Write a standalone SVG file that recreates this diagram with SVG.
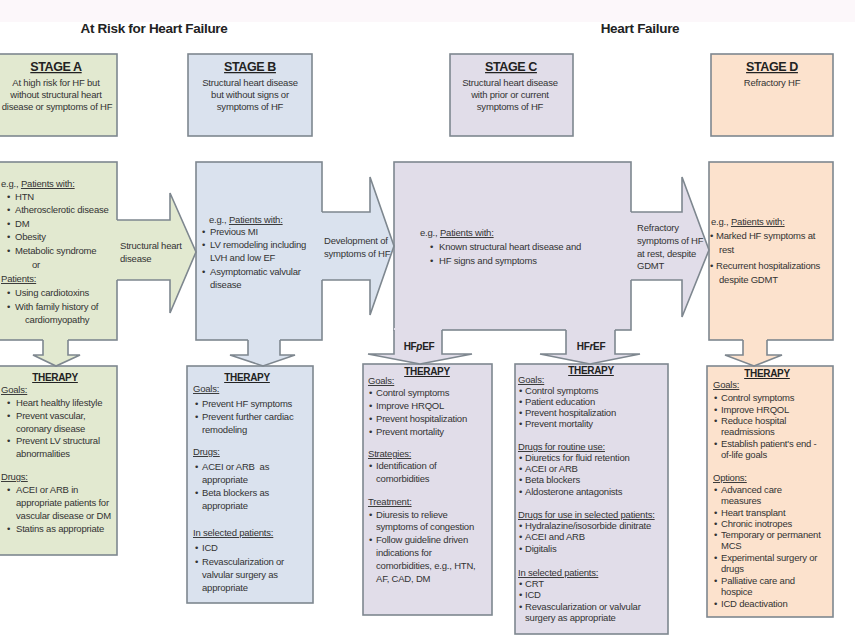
<svg xmlns="http://www.w3.org/2000/svg" width="855" height="637" viewBox="0 0 855 637">
<style>
text{font-family:"Liberation Sans",Arial,sans-serif;fill:#333;font-size:9.5px;letter-spacing:-0.2px}
.title{font-size:13.5px;font-weight:bold;fill:#222;letter-spacing:-0.3px;text-anchor:middle}
.stage{font-size:12.5px;font-weight:bold;fill:#222;letter-spacing:-0.4px;text-decoration:underline;text-anchor:middle}
.th{font-size:10px;font-weight:bold;fill:#222;letter-spacing:-0.3px;text-decoration:underline;text-anchor:middle}
.mid{text-anchor:middle}
.u{text-decoration:underline}
.lbl{font-size:10px;font-weight:bold;fill:#222;text-anchor:middle;letter-spacing:-0.3px}
.box{stroke:#7e878f;stroke-width:1.6}
.ga{fill:#e2e9d0}.gb{fill:#dae2ee}.gc{fill:#e1dde9}.gd{fill:#fce2cd}
.edge{stroke:#7e878f;stroke-width:1.6;fill:none}
</style>
<rect width="855" height="637" fill="#ffffff"/>
<rect width="855" height="22" fill="#fcf7fa"/>

<!-- column headings -->
<text class="title" x="154" y="33">At Risk for Heart Failure</text>
<text class="title" x="640" y="33">Heart Failure</text>

<!-- stage header boxes -->
<g id="stageA-header">
<rect class="box ga" x="-2" y="54" width="119" height="82"/>
<text class="stage" x="56" y="71">STAGE A</text>
<text class="mid" x="56" y="86">At high risk for HF but</text>
<text class="mid" x="56" y="98">without structural heart</text>
<text class="mid" x="57" y="110">disease or symptoms of HF</text>
</g>
<g id="stageB-header">
<rect class="box gb" x="188" y="54" width="124" height="82"/>
<text class="stage" x="250" y="71">STAGE B</text>
<text class="mid" x="250" y="86">Structural heart disease</text>
<text class="mid" x="250" y="98">but without signs or</text>
<text class="mid" x="250" y="110">symptoms of HF</text>
</g>
<g id="stageC-header">
<rect class="box gc" x="450" y="54" width="123" height="82"/>
<text class="stage" x="511" y="71">STAGE C</text>
<text class="mid" x="510" y="86">Structural heart disease</text>
<text class="mid" x="510" y="98">with prior or current</text>
<text class="mid" x="510" y="110">symptoms of HF</text>
</g>
<g id="stageD-header">
<rect class="box gd" x="711" y="54" width="122" height="82"/>
<text class="stage" x="772" y="71">STAGE D</text>
<text class="mid" x="772" y="86">Refractory HF</text>
</g>

<!-- patient example boxes -->
<g id="stageA-patients">
<rect class="box ga" x="-2" y="162" width="119" height="178"/>
<text x="1" y="187">e.g., <tspan class="u">Patients with:</tspan></text>
<text y="200"><tspan x="7">•</tspan><tspan x="15">HTN</tspan></text>
<text y="213"><tspan x="7">•</tspan><tspan x="15">Atherosclerotic disease</tspan></text>
<text y="227"><tspan x="7">•</tspan><tspan x="15">DM</tspan></text>
<text y="240"><tspan x="7">•</tspan><tspan x="15">Obesity</tspan></text>
<text y="254"><tspan x="7">•</tspan><tspan x="15">Metabolic syndrome</tspan></text>
<text class="mid" x="36" y="268">or</text>
<text x="1" y="282" class="u">Patients:</text>
<text y="296"><tspan x="7">•</tspan><tspan x="15">Using cardiotoxins</tspan></text>
<text y="310"><tspan x="7">•</tspan><tspan x="15">With family history of</tspan></text>
<text x="25" y="323">cardiomyopathy</text>
</g>
<g id="stageB-patients">
<rect class="box gb" x="196" y="162" width="126" height="178"/>
<text x="209" y="223">e.g., <tspan class="u">Patients with:</tspan></text>
<text y="235"><tspan x="202">•</tspan><tspan x="210">Previous MI</tspan></text>
<text y="248"><tspan x="202">•</tspan><tspan x="210">LV remodeling including</tspan></text>
<text x="210" y="261">LVH and low EF</text>
<text y="275"><tspan x="202">•</tspan><tspan x="210">Asymptomatic valvular</tspan></text>
<text x="210" y="288">disease</text>
</g>
<g id="stageC-patients">
<rect class="box gc" x="394" y="162" width="237" height="168"/>
<text x="420" y="236">e.g., <tspan class="u">Patients with:</tspan></text>
<text y="250"><tspan x="430">•</tspan><tspan x="439">Known structural heart disease and</tspan></text>
<text y="264"><tspan x="430">•</tspan><tspan x="439">HF signs and symptoms</tspan></text>
</g>
<g id="stageD-patients">
<rect class="box gd" x="709" y="162" width="124" height="178"/>
<text x="711" y="225">e.g., <tspan class="u">Patients with:</tspan></text>
<text y="239"><tspan x="710">•</tspan><tspan x="716">Marked HF symptoms at</tspan></text>
<text x="719" y="253">rest</text>
<text y="269"><tspan x="710">•</tspan><tspan x="716">Recurrent hospitalizations</tspan></text>
<text x="719" y="283">despite GDMT</text>
</g>

<!-- therapy boxes -->
<g id="stageA-therapy">
<rect class="box ga" x="-2" y="366" width="119" height="189"/>
<text class="th" x="55" y="381">THERAPY</text>
<text class="u" x="1" y="393">Goals:</text>
<text y="406"><tspan x="7">•</tspan><tspan x="16">Heart healthy lifestyle</tspan></text>
<text y="419"><tspan x="7">•</tspan><tspan x="16">Prevent vascular,</tspan></text>
<text x="16" y="432">coronary disease</text>
<text y="444"><tspan x="7">•</tspan><tspan x="16">Prevent LV structural</tspan></text>
<text x="16" y="457">abnormalities</text>
<text class="u" x="1" y="480">Drugs:</text>
<text y="493"><tspan x="7">•</tspan><tspan x="16">ACEI or ARB in</tspan></text>
<text x="16" y="506">appropriate patients for</text>
<text x="16" y="519">vascular disease or DM</text>
<text y="532"><tspan x="7">•</tspan><tspan x="16">Statins as appropriate</tspan></text>
</g>
<g id="stageB-therapy">
<rect class="box gb" x="187" y="366" width="126" height="237"/>
<text class="th" x="247" y="381">THERAPY</text>
<text class="u" x="193" y="392">Goals:</text>
<text y="407"><tspan x="195">•</tspan><tspan x="202">Prevent HF symptoms</tspan></text>
<text y="420"><tspan x="195">•</tspan><tspan x="202">Prevent further cardiac</tspan></text>
<text x="202" y="433">remodeling</text>
<text class="u" x="193" y="455">Drugs:</text>
<text y="470"><tspan x="195">•</tspan><tspan x="202" xml:space="preserve">ACEI or ARB  as</tspan></text>
<text x="202" y="483">appropriate</text>
<text y="496"><tspan x="195">•</tspan><tspan x="202">Beta blockers as</tspan></text>
<text x="202" y="509">appropriate</text>
<text class="u" x="193" y="536">In selected patients:</text>
<text y="551"><tspan x="195">•</tspan><tspan x="202">ICD</tspan></text>
<text y="565"><tspan x="195">•</tspan><tspan x="202">Revascularization or</tspan></text>
<text x="202" y="578">valvular surgery as</text>
<text x="202" y="591">appropriate</text>
</g>
<g id="stageC-therapy-hfpef">
<rect class="box gc" x="363" y="364" width="129" height="251"/>
<text class="th" x="427" y="375">THERAPY</text>
<text class="u" x="368" y="384">Goals:</text>
<text y="396"><tspan x="369">•</tspan><tspan x="376">Control symptoms</tspan></text>
<text y="409"><tspan x="369">•</tspan><tspan x="376">Improve HRQOL</tspan></text>
<text y="422"><tspan x="369">•</tspan><tspan x="376">Prevent hospitalization</tspan></text>
<text y="435"><tspan x="369">•</tspan><tspan x="376">Prevent mortality</tspan></text>
<text class="u" x="368" y="457">Strategies:</text>
<text y="469"><tspan x="369">•</tspan><tspan x="376">Identification of</tspan></text>
<text x="376" y="482">comorbidities</text>
<text class="u" x="368" y="505">Treatment:</text>
<text y="518"><tspan x="369">•</tspan><tspan x="376">Diuresis to relieve</tspan></text>
<text x="376" y="530">symptoms of congestion</text>
<text y="543"><tspan x="369">•</tspan><tspan x="376">Follow guideline driven</tspan></text>
<text x="376" y="556">indications for</text>
<text x="376" y="569">comorbidities, e.g., HTN,</text>
<text x="376" y="582">AF, CAD, DM</text>
</g>
<g id="stageC-therapy-hfref">
<rect class="box gc" x="515" y="364" width="153" height="270"/>
<text class="th" x="591" y="374">THERAPY</text>
<text class="u" x="518" y="383">Goals:</text>
<text y="394"><tspan x="519">•</tspan><tspan x="525">Control symptoms</tspan></text>
<text y="405"><tspan x="519">•</tspan><tspan x="525">Patient education</tspan></text>
<text y="416"><tspan x="519">•</tspan><tspan x="525">Prevent hospitalization</tspan></text>
<text y="427"><tspan x="519">•</tspan><tspan x="525">Prevent mortality</tspan></text>
<text class="u" x="518" y="450">Drugs for routine use:</text>
<text y="461"><tspan x="519">•</tspan><tspan x="525">Diuretics for fluid retention</tspan></text>
<text y="472"><tspan x="519">•</tspan><tspan x="525">ACEI or ARB</tspan></text>
<text y="483"><tspan x="519">•</tspan><tspan x="525">Beta blockers</tspan></text>
<text y="495"><tspan x="519">•</tspan><tspan x="525">Aldosterone antagonists</tspan></text>
<text class="u" x="518" y="518">Drugs for use in selected patients:</text>
<text y="529"><tspan x="519">•</tspan><tspan x="525">Hydralazine/isosorbide dinitrate</tspan></text>
<text y="540"><tspan x="519">•</tspan><tspan x="525">ACEI and ARB</tspan></text>
<text y="552"><tspan x="519">•</tspan><tspan x="525">Digitalis</tspan></text>
<text class="u" x="518" y="576">In selected patients:</text>
<text y="587"><tspan x="519">•</tspan><tspan x="525">CRT</tspan></text>
<text y="598"><tspan x="519">•</tspan><tspan x="525">ICD</tspan></text>
<text y="610"><tspan x="519">•</tspan><tspan x="525">Revascularization or valvular</tspan></text>
<text x="525" y="621">surgery as appropriate</text>
</g>
<g id="stageD-therapy">
<rect class="box gd" x="707" y="366" width="126" height="251"/>
<text class="th" x="767" y="377">THERAPY</text>
<text class="u" x="713" y="388">Goals:</text>
<text y="401"><tspan x="714">•</tspan><tspan x="721">Control symptoms</tspan></text>
<text y="413"><tspan x="714">•</tspan><tspan x="721">Improve HRQOL</tspan></text>
<text y="424"><tspan x="714">•</tspan><tspan x="721">Reduce hospital</tspan></text>
<text x="721" y="435">readmissions</text>
<text y="447"><tspan x="714">•</tspan><tspan x="721">Establish patient's end -</tspan></text>
<text x="721" y="458">of-life goals</text>
<text class="u" x="713" y="481">Options:</text>
<text y="493"><tspan x="714">•</tspan><tspan x="721">Advanced care</tspan></text>
<text x="721" y="504">measures</text>
<text y="516"><tspan x="714">•</tspan><tspan x="721">Heart transplant</tspan></text>
<text y="527"><tspan x="714">•</tspan><tspan x="721">Chronic inotropes</tspan></text>
<text y="538"><tspan x="714">•</tspan><tspan x="721">Temporary or permanent</tspan></text>
<text x="721" y="549">MCS</text>
<text y="561"><tspan x="714">•</tspan><tspan x="721">Experimental surgery or</tspan></text>
<text x="721" y="572">drugs</text>
<text y="584"><tspan x="714">•</tspan><tspan x="721">Palliative care and</tspan></text>
<text x="721" y="595">hospice</text>
<text y="607"><tspan x="714">•</tspan><tspan x="721">ICD deactivation</tspan></text>
</g>

<!-- block arrows between stages and down to therapy -->
<g id="connectors">
<path class="ga" d="M115,220 H170 V193 L196,252 L170,313 V280 H115 Z"/>
<path class="edge" d="M117,220 H170 V193 L196,252 L170,313 V280 H117"/>
<text x="120" y="249">Structural heart</text>
<text x="120" y="262">disease</text>

<path class="ga" d="M43,338 V355 H33 L56,366 L80,355 H68 V338 Z"/>
<path class="edge" d="M43,340 V355 H33 L56,366 L80,355 H68 V340"/>

<path class="gb" d="M320,212 H370 V177 L394,246 L370,315 V280 H320 Z"/>
<path class="edge" d="M322,212 H370 V177 L394,246 L370,315 V280 H322"/>
<text x="324" y="244">Development of</text>
<text x="324" y="257">symptoms of HF</text>

<path class="gb" d="M248,338 V355 H230 L263,366 L295,355 H280 V338 Z"/>
<path class="edge" d="M248,340 V355 H230 L263,366 L295,355 H280 V340"/>

<path class="gc" d="M629,212 H682 V177 L709,250 L682,317 V280 H629 Z"/>
<path class="edge" d="M631,212 H682 V177 L709,250 L682,317 V280 H631"/>
<text x="637" y="231">Refractory</text>
<text x="637" y="244">symptoms of HF</text>
<text x="637" y="257">at rest, despite</text>
<text x="637" y="269">GDMT</text>

<path class="gc" d="M394,328 V354 H368 L420,364 L472,354 H442 V328 Z"/>
<path class="edge" d="M394,330 V354 H368 L420,364 L472,354 H442 V330"/>
<text class="lbl" x="419" y="350">HF<tspan font-style="italic">p</tspan>EF</text>

<path class="gc" d="M566,328 V354 H540 L590,364 L640,354 H615 V328 Z"/>
<path class="edge" d="M566,330 V354 H540 L590,364 L640,354 H615 V330"/>
<text class="lbl" x="591" y="350">HF<tspan font-style="italic">r</tspan>EF</text>

<path class="gd" d="M743,338 V355 H725 L754,366 L782,355 H767 V338 Z"/>
<path class="edge" d="M743,340 V355 H725 L754,366 L782,355 H767 V340"/>
</g>
</svg>
